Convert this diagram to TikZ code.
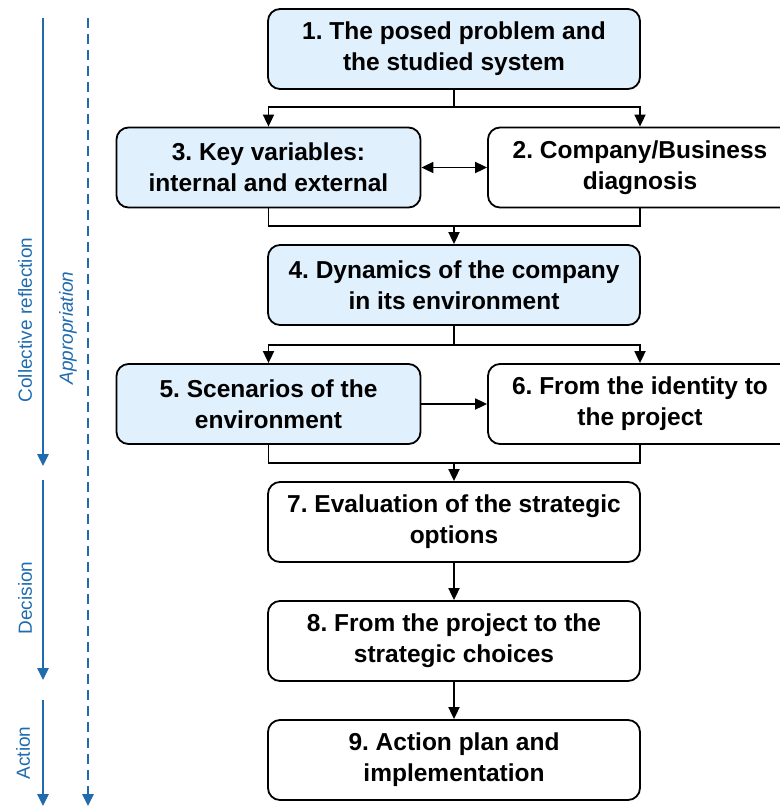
\documentclass[tikz,border=0pt]{standalone}
\usepackage{fontspec}
\setmainfont{Liberation Sans}
\usetikzlibrary{positioning, arrows.meta}
\definecolor{stepfill}{HTML}{E1F0FD}
\definecolor{phaseblue}{HTML}{1F6BAE}
\tikzset{
  stepbox/.style={
      rectangle,
      draw,
      line width=1.8pt,
      rounded corners=12pt,
      minimum height=80pt,
      inner sep=0pt,
      align=center,
      font=\bfseries\fontsize{24.5}{31}\selectfont
    },
  mid/.style={
      stepbox,
      minimum width=372pt
    },
  half/.style={
      stepbox,
      minimum width=304pt
    },
  lit/.style={
      fill=stepfill
    },
  link/.style={
      line width=1.8pt
    },
  arr/.style={
      -{Triangle[length=12pt,width=11pt]},
      line width=1.8pt
    },
  phase/.style={
      -{Triangle[length=12pt,width=11pt]},
      line width=2.6pt,
      draw=phaseblue
    },
  phaselabel/.style={
      rotate=90,
      text=phaseblue,
      font=\fontsize{19}{22}\selectfont
    }
}

\begin{document}
\frenchspacing
\begin{tikzpicture}[x=1pt,y=-1pt]
  \useasboundingbox (0,0) rectangle (780,807);
  % steps
  \node[mid, lit] (s1) at (454,49) {1. The posed problem and\\the studied system};
  \node[half, lit] (s3) at (268.5,167.5) {3. Key variables:\\internal and external};
  \node[half] (s2) at (640,167.5) {2. Company/Business\\diagnosis};
  \node[mid, lit] (s4) at (454,285) {4. Dynamics of the company\\in its environment};
  \node[half, lit] (s5) at (268.5,404) {5. Scenarios of the\\environment};
  \node[half] (s6) at (640,404) {6. From the identity to\\the project};
  \node[mid] (s7) at (454,522) {7. Evaluation of the strategic\\options};
  \node[mid] (s8) at (454,641) {8. From the project to the\\strategic choices};
  \node[mid] (s9) at (454,760) {9. Action plan and\\implementation};
  % split and merge points
  \coordinate (j1) at (454,107);
  \coordinate (j2) at (454,226);
  \coordinate (j3) at (454,345);
  \coordinate (j4) at (454,463);
  \draw[link] (s1) -- (j1);
  \draw[arr] (j1) -| (s3);
  \draw[arr] (j1) -| (s2);
  \draw[arr, {Triangle[length=12pt,width=11pt]}-{Triangle[length=12pt,width=11pt]}] (s3) -- (s2);
  \draw[link] (s3) |- (j2) -| (s2);
  \draw[arr] (j2) -- (s4);
  \draw[link] (s4) -- (j3);
  \draw[arr] (j3) -| (s5);
  \draw[arr] (j3) -| (s6);
  \draw[arr] (s5) -- (s6);
  \draw[link] (s5) |- (j4) -| (s6);
  \draw[arr] (j4) -- (s7);
  \draw[arr] (s7) -- (s8);
  \draw[arr] (s8) -- (s9);
  % phases
  \coordinate (r0) at (43,18);
  \coordinate (r1) at (43,466);
  \coordinate (d0) at (43,480);
  \coordinate (d1) at (43,680);
  \coordinate (a0) at (43,700);
  \coordinate (a1) at (43,806);
  \coordinate (p0) at (88,18);
  \coordinate (p1) at (88,806);
  \draw[phase] (r0) -- (r1);
  \draw[phase] (d0) -- (d1);
  \draw[phase] (a0) -- (a1);
  \draw[phase, dash pattern=on 10pt off 6pt] (p0) -- (p1);
  \node[phaselabel] (reflect) at (25,320) {Collective reflection};
  \node[phaselabel] (decide) at (25,598) {Decision};
  \node[phaselabel] (act) at (23,753) {Action};
  \node[phaselabel, font=\itshape\fontsize{19}{22}\selectfont] (approp) at (68,328) {Appropriation};
\end{tikzpicture}
\end{document}
